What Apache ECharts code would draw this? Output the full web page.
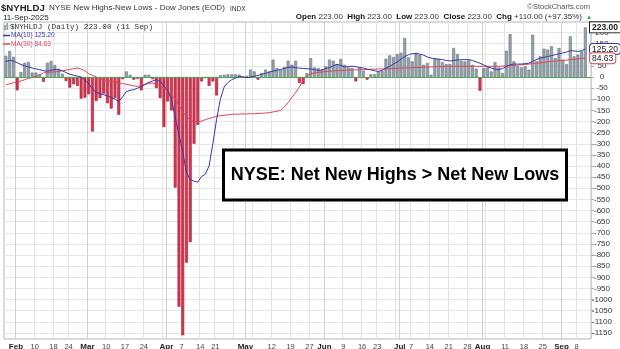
<!DOCTYPE html>
<html><head><meta charset="utf-8">
<script src="https://cdn.jsdelivr.net/npm/echarts@6/dist/echarts.min.js"></script>
<style>html,body{margin:0;padding:0;background:#fff}#c{width:620px;height:349px}</style>
</head><body><div id="c"></div>
<script>
// trading days per month (2025)
const daysJan = [30,31];
const daysFeb = [3,4,5,6,7,10,11,12,13,14,18,19,20,21,24,25,26,27,28];
const daysMar = [3,4,5,6,7,10,11,12,13,14,17,18,19,20,21,24,25,26,27,28,31];
const daysApr = [1,2,3,4,7,8,9,10,11,14,15,16,17,21,22,23,24,25,28,29,30];
const daysMay = [1,2,5,6,7,8,9,12,13,14,15,16,19,20,21,22,23,27,28,29,30];
const daysJun = [2,3,4,5,6,9,10,11,12,13,16,17,18,20,23,24,25,26,27,30];
const daysJul = [1,2,3,7,8,9,10,11,14,15,16,17,18,21,22,23,24,25,28,29,30,31];
const daysAug = [1,4,5,6,7,8,11,12,13,14,15,18,19,20,21,22,25,26,27,28,29];
const daysSep = [2,3,4,5,8,9,10,11];

// NYSE net new highs - new lows (daily)
const netHighsLows = [
  95,117,                                                                  // Jan
  91,-60,22,64,67,20,20,10,-22,64,72,54,37,15,-18,-48,-33,-40,-97,        // Feb
  -93,-78,-245,-108,-95,-75,-118,-142,-95,-170,-10,25,10,-12,-8,-60,10,10,-10,-50,-95, // Mar
  -225,-110,-150,-497,-1032,-1160,-834,-742,-300,-215,-20,-5,-40,-20,-83,8,10,12,12,12,10, // Apr
  3,5,33,25,-12,18,33,25,78,40,33,45,73,55,73,-27,-32,18,85,43,40,       // May
  33,48,78,73,58,81,55,43,40,-20,43,28,-12,13,13,25,28,82,97,90,          // Jun
  103,109,175,88,70,109,100,55,63,10,85,82,67,58,58,130,103,73,70,75,55,37, // Jul
  -62,40,43,25,67,43,18,118,193,70,48,43,48,33,190,70,93,127,123,138,85,  // Aug
  130,78,58,183,93,100,115,223                                             // Sep
];
const ma10 = [
  70,74,72,64,56,50,45,40,36,33,28,26,30,34,33,28,20,12,8,4,
  0,-15,-30,-55,-68,-75,-80,-85,-92,-100,-110,-90,-66,-60,-57,-50,-43,-33,-24,-18,
  -12,-20,-40,-60,-100,-180,-260,-335,-430,-460,-468,-472,-447,-437,-400,-300,-190,-100,-45,-25,
  -12,-5,3,0,-3,0,3,7,12,16,22,26,30,34,38,43,45,42,40,38,
  37,36,33,29,32,38,42,50,57,52,45,47,48,46,43,40,35,32,28,25,
  30,40,48,58,67,80,92,100,105,105,103,98,90,85,82,80,78,74,72,74,
  76,78,78,78,74,68,62,54,46,40,35,33,38,47,55,58,58,58,60,62,
  70,78,85,88,92,96,100,104,108,112,118,117,115,118,125.2
];
const ma30 = [
  -35,-30,-26,-22,-18,-12,-6,-2,3,10,18,20,22,23,25,28,31,34,38,40,
  36,28,15,8,0,-8,-13,-17,-20,-22,-26,-30,-33,-36,-40,-42,-38,-33,-29,-27,
  -33,-40,-50,-65,-80,-100,-128,-155,-180,-193,-200,-201,-198,-192,-186,-182,-176,-174,-172,-170,
  -168,-167,-167,-166,-166,-165,-165,-164,-163,-162,-160,-157,-154,-150,-135,-115,-92,-70,-45,-15,
  5,15,18,20,22,25,26,27,28,29,30,31,32,32,33,33,34,35,35,36,
  36,37,37,38,39,40,40,41,42,42,43,44,44,45,46,47,47,48,48,48,
  48,48,48,48,48,48,48,48,48,48,48,48,49,50,51,52,53,55,56,58,
  60,62,64,66,68,70,71,73,74,76,78,80,81,83,84.63
];
const yTicks = [200,150,100,50,0,-50,-100,-150,-200,-250,-300,-350,-400,-450,-500,-550,-600,-650,-700,-750,-800,-850,-900,-950,-1000,-1050,-1100,-1150];
const xTickDates = ['Feb 3','Feb 10','Feb 18','Feb 24','Mar 3','Mar 10','Mar 17','Mar 24','Apr 1','Apr 7','Apr 14','Apr 21','May 1','May 12','May 19','May 27','Jun 2','Jun 9','Jun 16','Jun 23','Jul 1','Jul 7','Jul 14','Jul 21','Jul 28','Aug 1','Aug 11','Aug 18','Aug 25','Sep 2','Sep 8'];
const xTickTexts = ['Feb','10','18','24','Mar','10','17','24','Apr','7','14','21','May','12','19','27','Jun','9','16','23','Jul','7','14','21','28','Aug','11','18','25','Sep','8'];
const weekGridDates = ['Feb 10','Feb 18','Feb 24','Mar 10','Mar 17','Mar 24','Mar 31','Apr 7','Apr 14','Apr 21','Apr 28','May 5','May 12','May 19','May 27','Jun 9','Jun 16','Jun 23','Jun 30','Jul 7','Jul 14','Jul 21','Jul 28','Aug 4','Aug 11','Aug 18','Aug 25','Sep 8'];
const monthGridDates = ['Feb 3','Mar 3','Apr 1','May 1','Jun 2','Jul 1','Aug 1','Sep 2'];
const lastValue = 223.00, lastMa10 = 125.20, lastMa30 = 84.63;

// ---- build ----
const monthList = [['Jan',daysJan],['Feb',daysFeb],['Mar',daysMar],['Apr',daysApr],['May',daysMay],['Jun',daysJun],['Jul',daysJul],['Aug',daysAug],['Sep',daysSep]];
const categories = [];
monthList.forEach(([m, ds]) => ds.forEach(d => categories.push(m + ' ' + d)));
const axisCats = categories.concat(['']);
const labelMap = {};
xTickDates.forEach((d, i) => labelMap[d] = xTickTexts[i]);
const isMonth = t => /^[A-Z]/.test(t);

// grid lines drawn at the boundary right after the marked day's bar
const gridTick = {};
weekGridDates.forEach(d => gridTick[categories.indexOf(d) + 1] = '#e4e4e4');
monthGridDates.forEach(d => gridTick[categories.indexOf(d) + 1] = '#d0d0d0');
const gridTickIdx = Object.keys(gridTick).map(Number).sort((a, b) => a - b);
const gridColors = gridTickIdx.map(i => gridTick[i]);
const gridSet = new Set(gridTickIdx);

const grayStyle = { color: '#95a3ab', borderColor: '#66757d', borderWidth: 0.6 };
const redStyle = { color: '#d8354f', borderColor: '#a81c35', borderWidth: 0.6 };
const barData = netHighsLows.map(v => ({ value: v, itemStyle: v >= 0 ? grayStyle : redStyle }));

const chart = echarts.init(document.getElementById('c'), null, { renderer: 'canvas' });
const F = 'Liberation Sans, Arial, sans-serif';

chart.setOption({
  animation: false,
  backgroundColor: '#fff',
  grid: { left: 4, right: 29, top: 22, bottom: 10, show: true, borderColor: '#b5b5b5', borderWidth: 1, containLabel: false, outerBoundsMode: 'none' },
  xAxis: {
    type: 'category', data: axisCats, boundaryGap: true,
    axisLine: { show: false }, axisTick: { show: false },
    splitLine: { show: true, interval: (idx) => gridSet.has(idx), lineStyle: { color: gridColors, width: 1 } },
    axisLabel: {
      interval: 0, margin: 4, fontFamily: F, fontSize: 7.5, color: '#444', align: 'center', padding: [0, 0, 0, 5],
      formatter: v => { const t = labelMap[v]; if (!t) return ''; return isMonth(t) ? '{m|' + t + '}' : t; },
      rich: { m: { fontFamily: F, fontSize: 8, fontWeight: 'bold', color: '#222' } }
    }
  },
  yAxis: {
    type: 'value', position: 'right', min: -1177, max: 247,
    axisLine: { show: false },
    axisTick: { show: true, length: 3, inside: false, customValues: yTicks, lineStyle: { color: '#aaa' } },
    splitLine: { show: true, lineStyle: { color: '#e6e6e6', width: 1 } },
    axisLabel: { customValues: yTicks, formatter: v => String(v), fontFamily: F, fontSize: 8, color: '#333', align: 'center', margin: 11 }
  },
  series: [
    {
      type: 'bar', data: barData, barWidth: '78%', z: 3,
      markLine: {
        silent: true, symbol: ['none', 'none'], animation: false, label: { show: false },
        data: [{ yAxis: 0, lineStyle: { color: '#49a84d', width: 1.2, type: 'solid' } }]
      }
    },
    { type: 'line', data: ma30, symbol: 'none', z: 4, lineStyle: { color: '#e5405c', width: 1 }, itemStyle: { color: '#e5405c' } },
    { type: 'line', data: ma10, symbol: 'none', z: 5, lineStyle: { color: '#3636b0', width: 1 }, itemStyle: { color: '#3636b0' } }
  ]
});

const yOf = v => chart.convertToPixel({ yAxisIndex: 0 }, v);
const tag = (val, y, border, bold) => ({
  type: 'text', left: 589, top: y - 6, z: 100,
  style: { text: val.toFixed(2), fontFamily: F, fontSize: 8.5, fontWeight: bold ? 'bold' : 'normal', fill: '#222',
    backgroundColor: '#fff', borderColor: border, borderWidth: 1, borderRadius: bold ? 0 : 3, padding: [1, 2, 0, 2] }
});

chart.setOption({
  graphic: [
    { type: 'text', left: 1, top: 3, style: { text: '$NYHLDJ', fontFamily: F, fontSize: 9.6, fontWeight: 'bold', fill: '#222' } },
    { type: 'text', left: 49, top: 4, style: { text: 'NYSE New Highs-New Lows - Dow Jones (EOD)', fontFamily: F, fontSize: 8.1, fill: '#333' } },
    { type: 'text', left: 230, top: 5.5, style: { text: 'INDX', fontFamily: F, fontSize: 6.5, fill: '#333' } },
    { type: 'text', left: 3, top: 13.5, style: { text: '11-Sep-2025', fontFamily: F, fontSize: 8, fill: '#222' } },
    { type: 'text', right: 30, top: 3, style: { text: '\u00a9StockCharts.com', fontFamily: F, fontSize: 7.5, fill: '#555' } },
    { type: 'text', right: 38, top: 13, style: {
        text: '{b|Open} 223.00  {b|High} 223.00  {b|Low} 223.00  {b|Close} 223.00  {b|Chg} +110.00 (+97.35%)',
        fontFamily: F, fontSize: 8, fill: '#333',
        rich: { b: { fontFamily: F, fontSize: 8, fontWeight: 'bold', fill: '#111' } } } },
    { type: 'text', left: 586, top: 14, style: { text: '\u25b2', fontFamily: F, fontSize: 6, fill: '#2e9c3a' } },
    // legend
    { type: 'rect', shape: { x: 4, y: 25, width: 1.8, height: 5 }, style: { fill: '#95a3ab' } },
    { type: 'rect', shape: { x: 6.3, y: 23, width: 1.8, height: 7 }, style: { fill: '#95a3ab' } },
    { type: 'text', left: 10, top: 23, style: { text: '$NYHLDJ (Daily) 223.00 (11 Sep)', fontFamily: 'Liberation Mono, DejaVu Sans Mono, monospace', fontSize: 7.7, fill: '#333' } },
    { type: 'line', shape: { x1: 3, y1: 35.5, x2: 10, y2: 35.5 }, style: { stroke: '#3636b0', lineWidth: 1.5 } },
    { type: 'text', left: 11, top: 32, style: { text: 'MA(10) 125.20', fontFamily: F, fontSize: 6.6, fill: '#3636b0' } },
    { type: 'line', shape: { x1: 3, y1: 44, x2: 10, y2: 44 }, style: { stroke: '#e5405c', lineWidth: 1.5 } },
    { type: 'text', left: 11, top: 40.5, style: { text: 'MA(30) 84.63', fontFamily: F, fontSize: 6.6, fill: '#e5405c' } },
    // annotation box
    { type: 'rect', z: 50, shape: { x: 223.5, y: 150, width: 343, height: 50 }, style: { fill: '#fff', stroke: '#000', lineWidth: 3 } },
    { type: 'text', z: 51, x: 395, y: 175, style: { text: 'NYSE: Net New Highs > Net New Lows', fontFamily: F, fontSize: 18, fontWeight: 'bold', fill: '#000', align: 'center', verticalAlign: 'middle' } },
    // right value tags
    tag(lastValue, yOf(lastValue), '#222', true),
    tag(lastMa10, yOf(lastMa10), '#3636b0', false),
    tag(lastMa30, yOf(lastMa30), '#e5405c', false)
  ]
});
</script></body></html>
